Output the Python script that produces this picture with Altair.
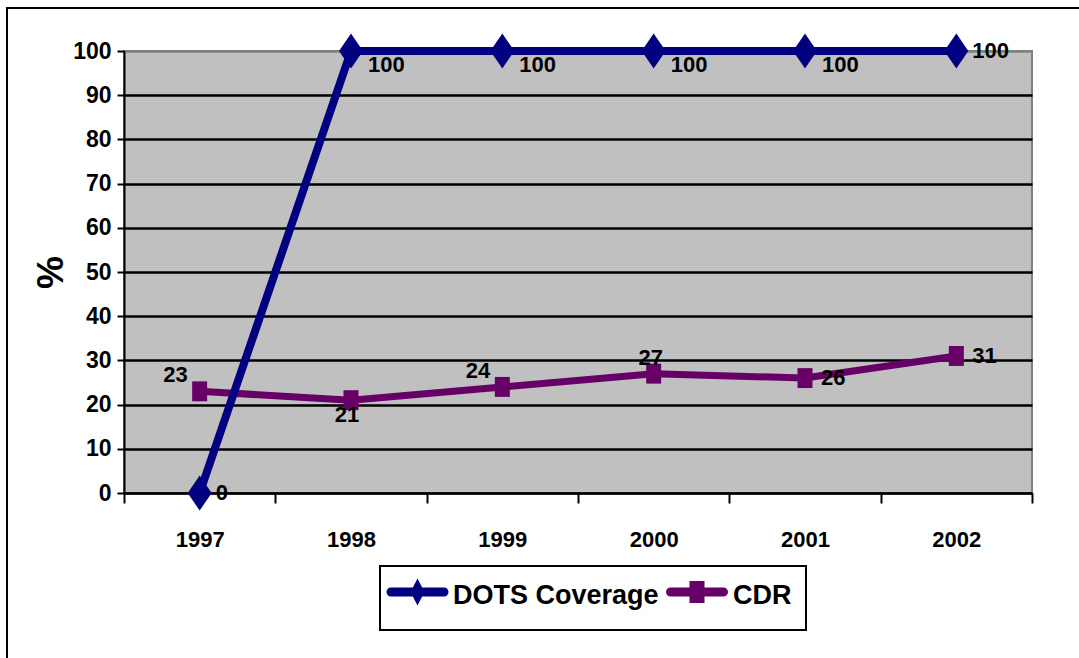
import altair as alt
import pandas as pd

# Series values by year
YEARS = [1997, 1998, 1999, 2000, 2001, 2002]
DOTS_COVERAGE = [0, 100, 100, 100, 100, 100]
CDR = [23, 21, 24, 27, 26, 31]
SERIES = ["DOTS Coverage", "CDR"]
COLORS = ["#000080", "#660066"]
Y_TICKS = list(range(0, 101, 10))

# Where each value label sits relative to its marker
DOTS_LABEL_POS = ["right", "belowright", "belowright", "belowright", "belowright", "right"]
CDR_LABEL_POS = ["aboveleft", "below", "aboveleft", "above", "right", "right"]

PLACEMENTS = {
    "right": dict(align="left", dx=16, dy=0),
    "belowright": dict(align="left", dx=17, dy=14),
    "above": dict(align="center", dx=-3, dy=-16),
    "below": dict(align="center", dx=-4, dy=15),
    "aboveleft": dict(align="right", dx=-12, dy=-16),
}

FONT = "Liberation Sans"

rows = []
for name, vals, pos in [(SERIES[0], DOTS_COVERAGE, DOTS_LABEL_POS), (SERIES[1], CDR, CDR_LABEL_POS)]:
    for y, v, p in zip(YEARS, vals, pos):
        rows.append({"year": y, "value": v, "series": name, "pos": p})
df = pd.DataFrame(rows)

W, H = 908, 442
band = W / len(YEARS)

x_enc = alt.X(
    "year:Q",
    scale=alt.Scale(domain=[YEARS[0] - 0.5, YEARS[-1] + 0.5], nice=False, zero=False),
    axis=alt.Axis(
        values=[y - 0.5 for y in YEARS] + [YEARS[-1] + 0.5],
        labelExpr=f"datum.value < {YEARS[-1]} ? format(datum.value + 0.5, 'd') : ''",
        labelOffset=band / 2,
        labelFlush=False,
        labelBound=False,
        labelOverlap=False,
        labelFont=FONT,
        labelFontSize=22,
        labelFontWeight="bold",
        labelColor="black",
        labelPadding=26,
        tickSize=10,
        tickWidth=2,
        tickColor="black",
        domainColor="black",
        domainWidth=2,
        grid=False,
        title=None,
    ),
)

y_enc = alt.Y(
    "value:Q",
    scale=alt.Scale(domain=[0, 100], nice=False),
    axis=alt.Axis(
        values=Y_TICKS,
        title="%",
        titleFont=FONT,
        titleFontSize=37,
        titleFontWeight="bold",
        titleColor="black",
        titleAngle=-90,
        titleX=-73,
        titleY=H / 2,
        titleAlign="center",
        titleBaseline="middle",
        labelFont=FONT,
        labelFontSize=23,
        labelFontWeight="bold",
        labelColor="black",
        labelPadding=6,
        tickSize=7,
        tickWidth=2,
        tickColor="black",
        domainColor="black",
        domainWidth=2,
        grid=True,
        gridColor={"condition": {"test": "datum.value === 100", "value": "#808080"}, "value": "#000000"},
        gridWidth=2.5,
    ),
)

base = alt.Chart(df)

# Outer frame around the whole figure
frame = alt.Chart(pd.DataFrame({"k": [0]})).mark_rect(
    fill="transparent", stroke="black", strokeWidth=2
).encode(
    x=alt.value(-117), x2=alt.value(1200), y=alt.value(-43), y2=alt.value(800)
)

cdr_line = base.transform_filter(alt.datum.series == SERIES[1]).mark_line(
    color=COLORS[1], strokeWidth=7, strokeJoin="round", strokeCap="round"
).encode(x=x_enc, y=y_enc)

dots_line = base.transform_filter(alt.datum.series == SERIES[0]).mark_line(
    color=COLORS[0], strokeWidth=8, strokeJoin="round", strokeCap="round"
).encode(x=x_enc, y=y_enc)

DIAMOND = "M0,-1.46L1,0L0,1.46L-1,0Z"
SQUARE = "M-0.625,-0.83L0.625,-0.83L0.625,0.83L-0.625,0.83Z"

points = base.mark_point(filled=True, size=576, opacity=1).encode(
    x=x_enc,
    y=y_enc,
    color=alt.Color("series:N", scale=alt.Scale(domain=SERIES, range=COLORS), legend=None),
    shape=alt.Shape("series:N", scale=alt.Scale(domain=SERIES, range=[DIAMOND, SQUARE]), legend=None),
)

label_layers = []
for key, p in PLACEMENTS.items():
    label_layers.append(
        base.transform_filter(alt.datum.pos == key).mark_text(
            align=p["align"], baseline="middle", dx=p["dx"], dy=p["dy"],
            font=FONT, fontSize=22, fontWeight="bold", color="black",
        ).encode(x=x_enc, y=y_enc, text=alt.Text("value:Q", format="d"))
    )

# Legend: boxed key below the plot, a line-and-marker sample plus name per series
CAPSULE = "M-2.65,-0.45L2.65,-0.45A0.45,0.45 0 0 1 2.65,0.45L-2.65,0.45A0.45,0.45 0 0 1 -2.65,-0.45Z"
LEG_SHAPES = [CAPSULE + "M0,-1.35L0.7,0L0,1.35L-0.7,0Z", CAPSULE + "M-0.75,-1.1L0.75,-1.1L0.75,1.1L-0.75,1.1Z"]
LEG_SYMBOL_X = [293.5, 573]
LEG_TEXT_X = [329, 609]
LEG_Y = 541

legend_box = alt.Chart(pd.DataFrame({"k": [0]})).mark_rect(
    fill="white", stroke="black", strokeWidth=2
).encode(x=alt.value(256), x2=alt.value(682), y=alt.value(515), y2=alt.value(579))

legend_layers = [legend_box]
for i, name in enumerate(SERIES):
    entry = alt.Chart(pd.DataFrame({"series": [name]}))
    legend_layers.append(
        entry.mark_point(shape=LEG_SHAPES[i], size=400, filled=True, opacity=1, color=COLORS[i], strokeWidth=0)
        .encode(x=alt.value(LEG_SYMBOL_X[i]), y=alt.value(LEG_Y))
    )
    legend_layers.append(
        entry.mark_text(align="left", baseline="alphabetic", font=FONT, fontSize=27,
                        fontWeight="bold", color="black")
        .encode(x=alt.value(LEG_TEXT_X[i]), y=alt.value(LEG_Y + 12), text="series:N")
    )

chart = alt.layer(frame, cdr_line, dots_line, points, *label_layers, *legend_layers).properties(
    width=W,
    height=H,
    autosize=alt.AutoSizeParams(type="none"),
    padding={"left": 124, "top": 51, "right": 47, "bottom": 165},
    background="white",
).configure_view(
    fill="#C0C0C0", stroke="#808080", strokeWidth=2
)

chart.save("out.html", embed_options={"renderer": "svg", "actions": False})
